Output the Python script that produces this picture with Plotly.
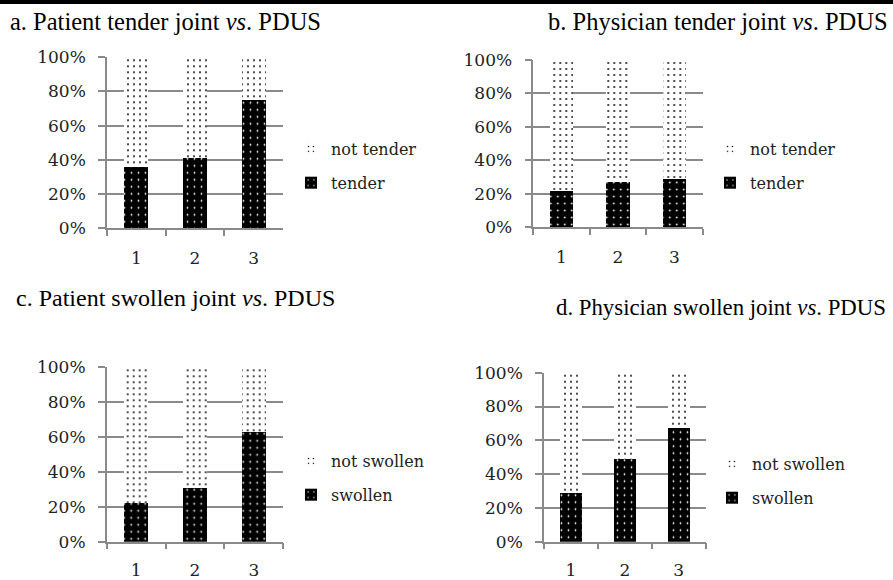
import plotly.graph_objects as go

categories = ["1", "2", "3"]

a_not_tender = [64, 59, 25]
a_tender = [36, 41, 75]
b_not_tender = [78, 73, 71]
b_tender = [22, 27, 29]
c_not_swollen = [78, 69, 37]
c_swollen = [22, 31, 63]
d_not_swollen = [71, 51, 33]
d_swollen = [29, 49, 67]

titles = [
    "a. Patient tender joint <i>vs</i>. PDUS",
    "b. Physician tender joint <i>vs</i>. PDUS",
    "c. Patient swollen joint <i>vs</i>. PDUS",
    "d. Physician swollen joint <i>vs</i>. PDUS",
]

panels = [
    (a_tender, a_not_tender, "tender", "not tender"),
    (b_tender, b_not_tender, "tender", "not tender"),
    (c_swollen, c_not_swollen, "swollen", "not swollen"),
    (d_swollen, d_not_swollen, "swollen", "not swollen"),
]

W, H = 893, 580
# pixel boxes (x0, x1, ytop, ybottom)
boxes = [
    (107, 283, 57.3, 228),
    (533.3, 702.7, 60, 227.3),
    (106.7, 283.3, 367.3, 541.7),
    (544, 705.7, 372.7, 541.7),
]
legend_pos = [(291, 166), (710, 166), (291, 478), (712, 481)]
title_pos = [(8, 22, "left", 24.5), (890, 22, "right", 24.5),
             (14, 298, "left", 24), (554, 307, "left", 22.8)]
standoffs = [14, 14, 12, 12]

GRID = "#8a8a8a"
TEXT = "#222222"
TICKFONT = dict(family="DejaVu Serif", size=17, color=TEXT)

fig = go.Figure()
layout = dict(
    width=W, height=H,
    margin=dict(l=0, r=0, t=0, b=0, autoexpand=False),
    paper_bgcolor="white", plot_bgcolor="white",
    barmode="stack", bargap=0.59,
    annotations=[], shapes=[],
)

for i, (dark, light, dname, lname) in enumerate(panels):
    n = "" if i == 0 else str(i + 1)
    xa, ya = "x" + n, "y" + n
    lg = "legend" + n
    fig.add_trace(go.Bar(
        x=categories, y=dark, name=dname, xaxis=xa, yaxis=ya, legend=lg,
        legendgroup=f"g{i}d", legendrank=2,
        marker=dict(color="black", line=dict(width=0),
                    pattern=dict(shape=".", bgcolor="black", fgcolor="white",
                                 size=7, solidity=0.05, fillmode="replace")),
    ))
    fig.add_trace(go.Bar(
        x=categories, y=light, name=lname, xaxis=xa, yaxis=ya, legend=lg,
        legendgroup=f"g{i}l", legendrank=1,
        marker=dict(color="white", line=dict(width=0),
                    pattern=dict(shape=".", bgcolor="white", fgcolor="black",
                                 size=6, solidity=0.075, fillmode="replace")),
    ))
    x0, x1, yt, yb = boxes[i]
    layout["xaxis" + n] = dict(
        domain=[x0 / W, x1 / W], anchor=ya, type="category",
        showline=True, linecolor=GRID, linewidth=1.5,
        ticks="outside", ticklen=6, tickcolor=GRID, tickwidth=1.5,
        tickson="boundaries", showgrid=False, ticklabelstandoff=standoffs[i],
        tickfont=TICKFONT, fixedrange=True, automargin=False,
    )
    layout["yaxis" + n] = dict(
        domain=[1 - yb / H, 1 - yt / H], anchor=xa,
        range=[0, 100.01], dtick=20, ticksuffix="%",
        showline=True, linecolor=GRID, linewidth=1.5,
        ticks="outside", ticklen=7, tickcolor=GRID, tickwidth=1.5,
        showgrid=True, gridcolor=GRID, gridwidth=1.5, zeroline=False,
        ticklabelstandoff=9, tickfont=TICKFONT, fixedrange=True, automargin=False,
    )
    lx, ly = legend_pos[i]
    layout[lg] = dict(
        x=lx / W, y=1 - ly / H, xanchor="left", yanchor="middle",
        xref="paper", yref="paper",
        bgcolor="rgba(0,0,0,0)", traceorder="grouped",
        tracegroupgap=10, font=dict(family="DejaVu Serif", size=16, color=TEXT),
    )
    tx, ty, anc, fs = title_pos[i]
    layout["annotations"].append(dict(
        text=titles[i], x=tx / W, y=1 - ty / H, xref="paper", yref="paper",
        xanchor=anc, yanchor="middle", showarrow=False,
        font=dict(family="Liberation Serif", size=fs, color="black"),
    ))

layout["shapes"].append(dict(
    type="rect", xref="paper", yref="paper", x0=0, x1=1, y0=1 - 4 / H, y1=1,
    fillcolor="black", line=dict(width=0),
))

fig.update_layout(**layout)
fig.write_html(
    "out.html",
    config={"displayModeBar": False},
    post_script="document.body.style.margin='0';document.body.style.padding='0';"
                "document.documentElement.style.overflow='hidden';",
)
